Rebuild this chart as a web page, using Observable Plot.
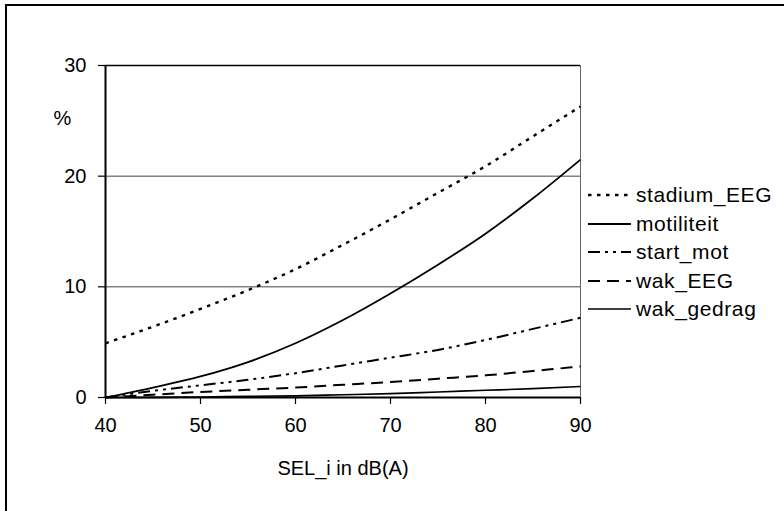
<!DOCTYPE html>
<html><head><meta charset="utf-8">
<script src="https://cdn.jsdelivr.net/npm/d3@7"></script>
<script src="https://cdn.jsdelivr.net/npm/@observablehq/plot@0.6"></script>
<style>
body{margin:0;background:#fff;font-family:"Liberation Sans",Arial,sans-serif;}
#wrap{position:relative;width:784px;height:511px;overflow:hidden;background:#fff;}
#frame{position:absolute;left:5px;top:4px;width:820px;height:540px;border-left:2px solid #000;border-top:2px solid #000;pointer-events:none;}
#chart{position:absolute;left:0;top:0;}
#legend{position:absolute;left:588px;top:181px;font-size:21px;letter-spacing:0.6px;color:#000;}
.row{display:flex;align-items:center;height:28.5px;}
.row svg{display:block;margin-right:5px;}
</style></head><body>
<div id="wrap"><div id="chart"></div><div id="frame"></div><div id="legend"></div></div>
<script>
// ---- data ----
const selValues   = [40, 45, 50, 55, 60, 65, 70, 75, 80, 85, 90];
const stadium_EEG = [4.9, 6.4, 8.0, 9.7, 11.6, 13.8, 16.1, 18.5, 20.9, 23.6, 26.3];
const motiliteit  = [0, 0.9, 1.9, 3.2, 4.9, 7.0, 9.4, 12.0, 14.8, 18.0, 21.5];
const start_mot   = [0, 0.6, 1.1, 1.6, 2.2, 2.9, 3.6, 4.3, 5.2, 6.2, 7.2];
const wak_EEG     = [0, 0.25, 0.5, 0.7, 0.9, 1.15, 1.4, 1.7, 2.0, 2.4, 2.8];
const wak_gedrag  = [0, 0.01, 0.05, 0.1, 0.15, 0.25, 0.35, 0.5, 0.65, 0.8, 1.0];
const seriesNames = ["stadium_EEG", "motiliteit", "start_mot", "wak_EEG", "wak_gedrag"];
const seriesData  = [stadium_EEG, motiliteit, start_mot, wak_EEG, wak_gedrag];
const xTicks = [40, 50, 60, 70, 80, 90];
const yTicks = [0, 10, 20, 30];
const xLabel = "SEL_i in dB(A)";
const yLabel = "%";

// ---- styles ----
const styles = {
  stadium_EEG: {dash: "3.5,5.5", width: 2.4},
  motiliteit:  {dash: null, width: 1.8},
  start_mot:   {dash: "12,5,3,5,3,5", width: 2},
  wak_EEG:     {dash: "12,7", width: 2},
  wak_gedrag:  {dash: null, width: 1.6}
};

const rows = [];
seriesNames.forEach((name, i) => {
  seriesData[i].forEach((v, j) => rows.push({series: name, x: selValues[j], y: v}));
});

const lineMarks = seriesNames.map(name => Plot.line(rows.filter(d => d.series === name), {
  x: "x", y: "y", curve: "monotone-x",
  stroke: "#000", strokeWidth: styles[name].width,
  strokeDasharray: styles[name].dash || undefined,
  strokeLinecap: "butt"
}));

const chart = Plot.plot({
  width: 784, height: 511,
  marginLeft: 105, marginRight: 204, marginTop: 65, marginBottom: 114,
  style: {background: "transparent", fontSize: "20px", fontFamily: "'Liberation Sans', Arial, sans-serif", color: "#000"},
  x: {domain: [40, 90]},
  y: {domain: [0, 30]},
  marks: [
    Plot.ruleY([10, 20], {stroke: "#444", strokeWidth: 1}),
    Plot.ruleX([90], {stroke: "#666", strokeWidth: 1}),
    Plot.ruleY([30], {stroke: "#000", strokeWidth: 1.5}),
    ...lineMarks,
    Plot.ruleY([0], {stroke: "#000", strokeWidth: 2}),
    Plot.ruleX([40], {stroke: "#000", strokeWidth: 2}),
    Plot.axisX({ticks: xTicks, tickSize: 7, tickPadding: 13, tickFormat: d => String(d), label: null, stroke: "#000", strokeWidth: 1.2}),
    Plot.axisY({ticks: yTicks, tickSize: 7, tickPadding: 12, tickFormat: d => String(d), label: null, stroke: "#000", strokeWidth: 1.2}),
    Plot.text([xLabel], {frameAnchor: "bottom", dy: 71, text: d => d, fontSize: 20, lineAnchor: "middle"}),
    Plot.text([yLabel], {frameAnchor: "top-left", dx: -43, dy: 53, text: d => d, fontSize: 20, lineAnchor: "middle", textAnchor: "middle"})
  ]
});
document.getElementById("chart").appendChild(chart);

// ---- legend ----
const legend = d3.select("#legend");
seriesNames.forEach(name => {
  const row = legend.append("div").attr("class", "row");
  const svg = row.append("svg").attr("width", 43).attr("height", 10);
  svg.append("line").attr("x1", 0).attr("x2", 43).attr("y1", 5).attr("y2", 5)
    .attr("stroke", "#000").attr("stroke-width", styles[name].width)
    .attr("stroke-dasharray", styles[name].dash);
  row.append("span").text(name);
});
</script>
</body></html>
